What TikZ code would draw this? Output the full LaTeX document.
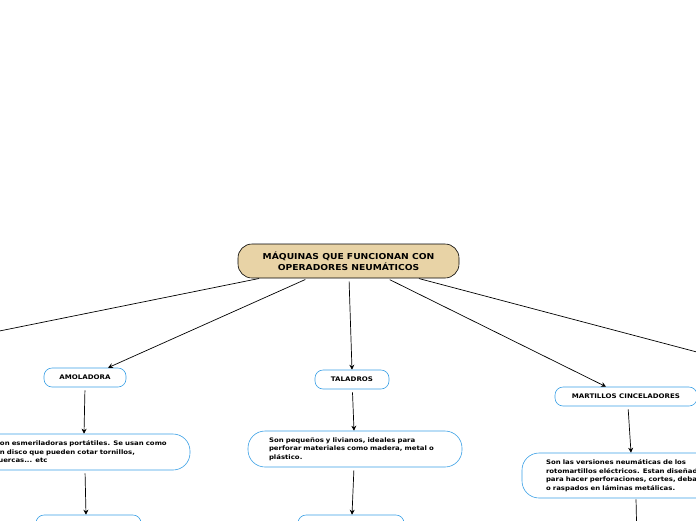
\documentclass[tikz,border=0pt]{standalone}
\usepackage{fontspec}
\setmainfont[FakeStretch=1.12]{DejaVu Sans}
\usetikzlibrary{%
  positioning
 ,arrows.meta
}
\definecolor{arena}{HTML}{E8D3A6}
\definecolor{celeste}{HTML}{3AA0E6}
\tikzstyle{mapa}=[x=1pt,y=-1pt]
\tikzstyle{raiz}=[draw=black,fill=arena,line width=0.6pt,rounded corners=14pt,minimum width=221pt,minimum height=34pt,align=center,font=\fontsize{8.2}{11}\selectfont\bfseries]
\tikzstyle{rama}=[draw=celeste,fill=white,line width=0.6pt,rounded corners=8pt,minimum height=19pt,font=\fontsize{6.3}{8}\selectfont\bfseries]
\tikzstyle{desc}=[draw=celeste,fill=white,line width=0.6pt,rounded corners=17pt,text width=172pt,inner xsep=21pt,minimum height=36pt,align=left,font=\fontsize{6.2}{8.5}\selectfont\bfseries]
\tikzstyle{flecha}=[-{Stealth[length=5pt,width=5pt]},line width=0.7pt,shorten <=3pt]
\tikzstyle{linea}=[line width=0.7pt,shorten <=1pt]

\begin{document}
\begin{tikzpicture}[mapa]
  \useasboundingbox (0,0) rectangle (696,520);
  \clip (0,0) rectangle (696,520);
  \node[raiz]                    (raiz)     at (348.5,261)  {MÁQUINAS QUE FUNCIONAN CON\\OPERADORES NEUMÁTICOS};
  \node[rama,minimum width=82pt]  (amolad)   at (85,377.5)   {AMOLADORA};
  \node[rama,minimum width=74pt]  (talad)    at (352,379.5)  {TALADROS};
  \node[rama,minimum width=142pt] (martil)   at (626,396.5)  {MARTILLOS CINCELADORES};
  \node[desc,text width=180pt,inner xsep=15pt] (d_amolad) at (85,452) {Son esmeriladoras portátiles. Se usan como\\un disco que pueden cotar tornillos,\\tuercas... etc};
  \node[desc]                    (d_talad)  at (355,449)    {Son pequeños y livianos, ideales para\\perforar materiales como madera, metal o\\plástico.};
  \node[desc,text width=200pt,inner xsep=24pt,minimum height=45pt] (d_martil) at (646,475.5) {Son las versiones neumáticas de los\\rotomartillos eléctricos. Estan diseñados\\para hacer perforaciones, cortes, debastes\\o raspados en láminas metálicas.};
  \node[rama,minimum width=105pt] (f_amolad) at (88.5,524.5)  {};
  \node[rama,minimum width=106pt] (f_talad)  at (351,524.5)   {};
% 
  \coordinate (izq) at (-50,341);
  \coordinate (der) at (746,365);
  \coordinate (abajo) at (637,545);
  \draw[linea]  ([xshift=-88.5pt]raiz.south) -- (izq);
  \draw[flecha] ([xshift=-40.5pt]raiz.south) -- ([xshift=23pt]amolad.north);
  \draw[flecha] ([xshift=0.5pt]raiz.south)   -- (talad.north);
  \draw[flecha] ([xshift=38.5pt]raiz.south)  -- ([xshift=-20pt]martil.north);
  \draw[linea]  ([xshift=69.5pt]raiz.south)  -- (der);
  \draw[flecha] (amolad.south -| 85,0) -- (d_amolad.north -| 84,0);
  \draw[flecha] (d_amolad.south -| 85,0) -- (f_amolad.north -| 86,0);
  \draw[flecha] (talad)    -- (d_talad.north -| 354,0);
  \draw[flecha] (d_talad.south -| 354,0) -- (f_talad.north -| 352,0);
  \draw[flecha] (martil.south -| 628,0) -- (d_martil.north -| 631,0);
  \draw[linea]  (d_martil.south -| 636,0) -- (abajo);
\end{tikzpicture}
\end{document}
